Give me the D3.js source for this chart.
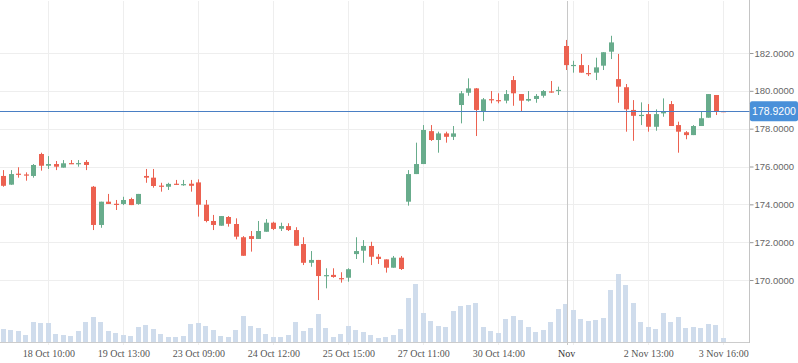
<!DOCTYPE html>
<html>
<head>
<meta charset="utf-8">
<script src="https://cdn.jsdelivr.net/npm/d3@7"></script>
<style>
  body { margin: 0; background: #fff; }
  svg { display: block; }
</style>
</head>
<body>
<svg id="chart" width="798" height="363"></svg>
<script>
// candle values, one per bar
const opens = [175.50,175.04,175.62,175.58,175.50,176.66,176.04,176.13,175.94,176.18,
  176.15,176.24,174.93,172.91,174.14,174.03,174.02,174.28,174.02,175.50,
  175.41,174.99,174.93,175.09,175.04,175.09,175.16,173.98,173.12,172.87,
  173.33,172.96,172.26,172.32,172.17,172.55,173.03,172.71,172.85,172.64,
  171.90,170.91,171.06,170.23,170.27,170.10,170.12,171.37,171.55,171.80,
  171.23,171.09,170.65,171.18,174.14,175.60,176.13,177.87,177.40,177.75,
  177.57,179.25,179.90,180.13,178.93,179.56,179.51,179.48,180.57,179.83,
  179.48,179.57,179.74,179.97,180.02,182.37,181.34,181.36,180.94,180.96,
  181.33,182.07,180.62,180.19,178.99,178.70,178.77,178.10,178.81,179.30,
  178.19,177.81,177.66,178.14,178.58,179.78,178.93];
const closes = [174.98,175.60,175.58,175.54,176.08,176.04,176.13,175.99,176.17,176.16,
  176.18,176.08,172.91,174.14,174.02,174.01,174.23,173.96,174.55,175.41,
  174.97,174.96,175.08,175.06,175.07,174.98,173.98,173.12,172.91,173.38,
  172.97,172.29,171.28,172.17,172.59,173.03,172.70,172.85,172.64,171.81,
  170.91,171.06,170.21,170.26,170.16,170.07,170.57,171.53,171.80,171.23,
  171.11,170.65,171.18,170.58,175.60,176.13,177.93,177.40,177.75,177.57,
  177.75,179.87,180.13,178.99,179.55,179.53,179.48,179.83,179.87,179.48,
  179.57,179.73,179.99,179.94,180.05,181.36,181.37,180.96,180.92,181.24,
  182.04,182.56,180.22,179.02,178.68,178.73,178.10,178.77,178.93,178.14,
  177.84,177.66,178.14,178.55,179.83,178.93,178.92];
const highs = [175.81,175.81,175.96,175.69,176.13,176.73,176.55,176.29,176.34,176.34,
  176.34,176.34,174.97,174.14,174.55,174.23,174.40,174.35,174.55,175.87,
  175.87,175.14,175.14,175.29,175.29,175.29,175.32,174.23,173.44,173.38,
  173.38,173.26,172.32,172.59,173.12,173.22,173.08,173.03,173.00,172.79,
  172.26,171.53,171.06,170.62,170.62,170.41,170.62,172.26,172.11,172.02,
  171.37,171.09,171.27,171.27,175.81,177.26,178.19,178.19,177.84,177.84,
  178.14,179.99,180.66,180.15,179.62,179.99,179.87,180.04,180.78,179.83,
  179.99,179.83,180.04,180.52,180.22,182.69,181.59,181.95,181.36,181.75,
  182.04,182.91,181.95,180.36,179.51,179.39,179.30,179.02,179.60,179.46,
  178.37,177.87,178.19,178.90,179.83,179.78,178.93];
const lows = [174.93,175.03,175.41,175.25,175.41,175.78,175.87,175.81,175.94,176.13,
  175.99,175.81,172.64,172.76,174.02,173.70,173.96,173.96,173.98,175.14,
  174.88,174.67,174.76,175.02,174.98,174.67,173.35,173.05,172.64,172.87,
  172.82,172.15,171.28,171.50,172.17,172.55,172.64,172.59,172.59,171.81,
  170.79,170.70,168.94,169.56,170.12,169.86,169.91,171.11,170.91,170.79,
  170.85,170.39,170.65,170.53,173.93,175.60,176.13,177.35,176.73,177.26,
  177.40,178.28,179.74,177.61,178.40,179.34,179.34,179.34,179.21,178.93,
  179.43,179.37,179.64,179.90,179.78,181.10,180.96,180.96,180.78,180.57,
  181.10,181.68,179.37,177.84,177.36,178.19,177.84,177.89,178.63,178.14,
  176.73,177.44,177.66,178.14,178.58,178.72,178.92];
const volumes = [13,12,11,7,20,19,19,8,7,6,
  11,20,25,20,11,9,7,6,15,17,
  13,8,5,5,6,18,19,16,12,6,
  5,12,26,16,14,8,5,5,7,20,
  11,14,28,14,5,8,16,12,10,7,
  4,5,7,13,44,58,29,21,16,15,
  31,36,37,39,15,11,9,23,26,22,
  15,10,12,20,33,38,32,23,21,22,
  24,52,68,57,39,20,15,13,29,20,
  25,14,15,14,18,17,4].map(v => v * 1000);

// x axis tick labels (bar index -> label)
const tickIdx = [6, 16, 26, 36, 46, 56, 66, 76, 86, 96];
const tickLabels = ["18 Oct 10:00", "19 Oct 13:00", "23 Oct 09:00", "24 Oct 12:00", "25 Oct 15:00",
  "27 Oct 11:00", "30 Oct 14:00", "", "2 Nov 13:00", "3 Nov 16:00"];
const monthIdx = 75.1;
const monthLabel = "Nov";
const yTicks = [170, 172, 174, 176, 178, 180, 182];

const svg = d3.select("#chart");
const plotRight = 749.5;
const plotBottom = 342;

const x = d3.scaleLinear().domain([0, opens.length - 1]).range([3.3, 723.3]);
const y = d3.scaleLinear().domain([170, 182]).range([280, 53]);
const yVol = d3.scaleLinear().domain([0, 68000]).range([plotBottom, 274]);

const up = "#68ac8c", down = "#ec6150";
const idx = d3.range(opens.length);

// grid
const grid = svg.append("g");
grid.selectAll(".hg").data(yTicks).enter().append("line")
  .attr("x1", 0).attr("x2", plotRight)
  .attr("y1", d => Math.round(y(d)) + 0.5).attr("y2", d => Math.round(y(d)) + 0.5)
  .attr("stroke", "#eeeeee");
grid.selectAll(".vg").data(tickIdx).enter().append("line")
  .attr("x1", d => Math.round(x(d)) + 0.5).attr("x2", d => Math.round(x(d)) + 0.5)
  .attr("y1", 1).attr("y2", plotBottom + 3)
  .attr("stroke", "#eeeeee");

// volume
svg.append("g").selectAll("rect").data(idx).enter().append("rect")
  .attr("x", i => Math.round(x(i) - 2.5))
  .attr("width", 5)
  .attr("y", i => yVol(volumes[i]))
  .attr("height", i => plotBottom - yVol(volumes[i]))
  .attr("fill", "#cfdcec");

// month separator
svg.append("line")
  .attr("x1", Math.round(x(monthIdx)) + 0.5).attr("x2", Math.round(x(monthIdx)) + 0.5)
  .attr("y1", 1).attr("y2", plotBottom + 3)
  .attr("stroke", "#c8c8c8");

// candles
const candles = svg.append("g").selectAll("g").data(idx).enter().append("g")
  .attr("fill", i => closes[i] >= opens[i] ? up : down)
  .attr("stroke", i => closes[i] >= opens[i] ? up : down);
candles.append("line")
  .attr("x1", i => Math.round(x(i)) + 0.5).attr("x2", i => Math.round(x(i)) + 0.5)
  .attr("y1", i => y(highs[i])).attr("y2", i => y(lows[i]))
  .attr("stroke-width", 1);
candles.append("rect")
  .attr("stroke", "none")
  .attr("x", i => Math.round(x(i)) - 2)
  .attr("width", 5)
  .attr("y", i => Math.min(y(opens[i]), y(closes[i])))
  .attr("height", i => Math.max(1.2, Math.abs(y(opens[i]) - y(closes[i]))));

// x axis
svg.append("line")
  .attr("x1", 0).attr("x2", plotRight)
  .attr("y1", plotBottom + 0.5).attr("y2", plotBottom + 0.5)
  .attr("stroke", "#cccccc");
const xl = svg.append("g")
  .style("font-family", "'Liberation Serif', serif")
  .style("font-size", "10px")
  .attr("fill", "#555");
xl.selectAll("text").data(tickIdx).enter().append("text")
  .attr("x", d => x(d) + 0.5).attr("y", 357)
  .attr("text-anchor", "middle")
  .text((d, k) => tickLabels[k]);
xl.append("text")
  .attr("x", x(monthIdx)).attr("y", 357)
  .attr("text-anchor", "middle")
  .attr("fill", "#333")
  .text(monthLabel);

// y axis
const yAxis = d3.axisRight(y).tickValues(yTicks).tickSize(4).tickPadding(1)
  .tickFormat(d3.format(".4f"));
const ya = svg.append("g").attr("transform", `translate(${plotRight},0)`).call(yAxis);
ya.select(".domain").remove();
ya.selectAll(".tick line").attr("stroke", "#999");
ya.selectAll(".tick text")
  .attr("fill", "#666")
  .style("font-family", "'Liberation Sans', sans-serif")
  .style("font-size", "9.5px");
svg.append("line")
  .attr("x1", plotRight).attr("x2", plotRight)
  .attr("y1", 0).attr("y2", plotBottom + 1)
  .attr("stroke", "#c4c4c4");

// current price line and label
const last = closes[closes.length - 1];
svg.append("line")
  .attr("x1", 0).attr("x2", plotRight)
  .attr("y1", Math.round(y(last)) + 0.5).attr("y2", Math.round(y(last)) + 0.5)
  .attr("stroke", "#4a7fc4");
svg.append("rect")
  .attr("x", 750).attr("y", y(last) - 10)
  .attr("width", 48).attr("height", 20)
  .attr("rx", 2)
  .attr("fill", "#4a90d9");
svg.append("text")
  .attr("x", 774).attr("y", y(last) + 4)
  .attr("text-anchor", "middle")
  .attr("fill", "#fff")
  .style("font-family", "'Liberation Sans', sans-serif")
  .style("font-size", "10.5px")
  .text(d3.format(".4f")(last));
</script>
</body>
</html>
